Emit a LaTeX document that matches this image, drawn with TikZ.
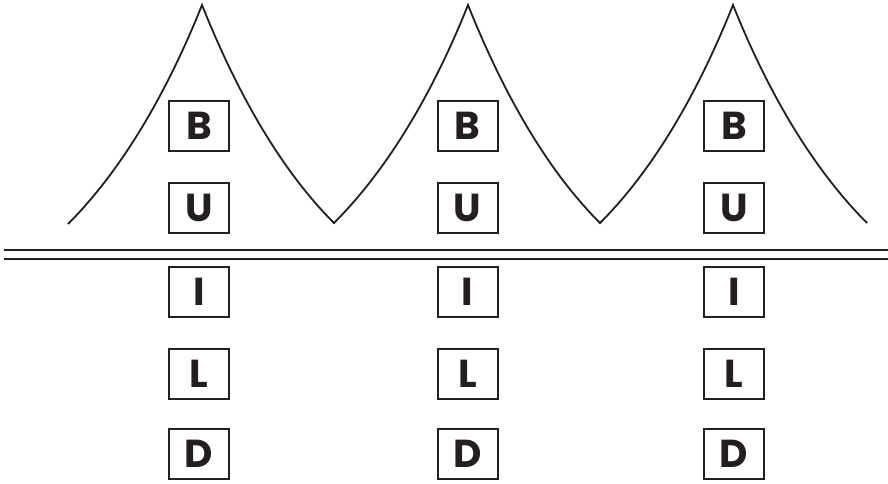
\documentclass[tikz,border=0pt]{standalone}
\usepackage{fontspec}
\setmainfont{Poppins}
\definecolor{ink}{HTML}{231F20}
\tikzset{
  letterbox/.style={draw=ink, line width=2pt, minimum width=60pt, minimum height=50pt,
    inner sep=0pt, font=\fontsize{39}{39}\selectfont\bfseries, text=ink},
  roof/.style={draw=ink, line width=1.8pt, line join=miter},
  rule/.style={draw=ink, line width=2.5pt}
}
\begin{document}
\begin{tikzpicture}[x=1pt,y=-1pt]
\useasboundingbox (0,0) rectangle (888,484);
% roof outline
\coordinate (e0) at (68,224);
\coordinate (p1) at (202,5);
\coordinate (v1) at (334,223);
\coordinate (p2) at (468,5);
\coordinate (v2) at (600,223);
\coordinate (p3) at (733,5);
\coordinate (e1) at (867,223);
\draw[roof] (e0) .. controls +(50,-50) and +(-38,95) .. (p1)
  .. controls +(38,95) and +(-50,-50) .. (v1)
  .. controls +(50,-50) and +(-38,95) .. (p2)
  .. controls +(38,95) and +(-50,-50) .. (v2)
  .. controls +(50,-50) and +(-38,95) .. (p3)
  .. controls +(38,95) and +(-50,-50) .. (e1);
% double rule
\coordinate (r1a) at (4,250);
\coordinate (r1b) at (888,250);
\coordinate (r2a) at (4,259);
\coordinate (r2b) at (888,259);
\draw[rule] (r1a) -- (r1b);
\draw[rule] (r2a) -- (r2b);
% letter boxes
\foreach \c/\x in {a/199, b/467.5, c/734}{
  \node[letterbox] (B\c) at (\x,126) {B};
  \node[letterbox] (U\c) at (\x,208) {U};
  \node[letterbox] (I\c) at (\x,292) {I};
  \node[letterbox] (L\c) at (\x,373.5) {L};
  \node[letterbox] (D\c) at (\x,454) {D};
}
\end{tikzpicture}
\end{document}
